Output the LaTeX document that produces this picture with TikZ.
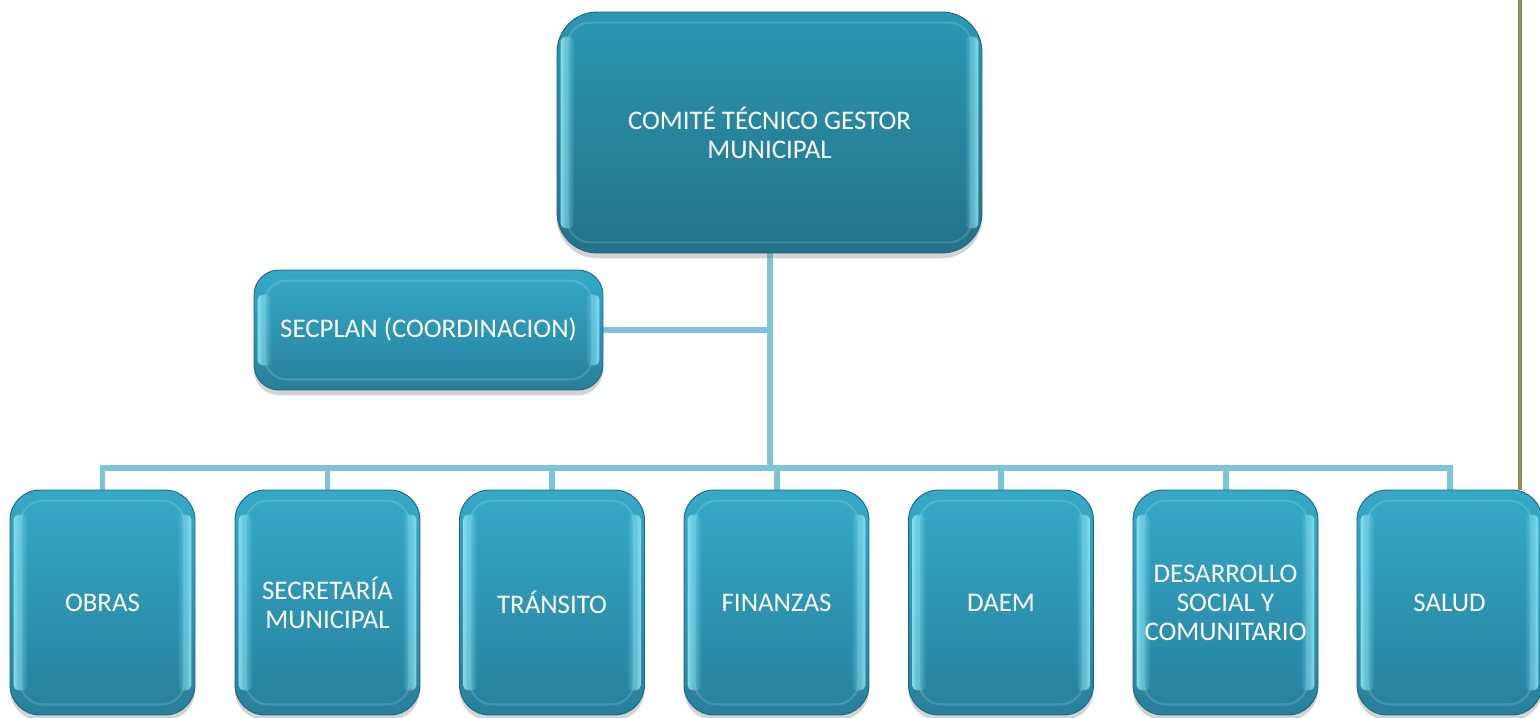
\documentclass[tikz,border=0pt]{standalone}
\usepackage{fontspec}
\setmainfont{Carlito}
\usepackage{tikz}
\usetikzlibrary{shadows,backgrounds,fadings}

\definecolor{boxtop}{HTML}{35A9C9}
\definecolor{boxbot}{HTML}{27809C}
\definecolor{headtop}{HTML}{2C97B3}
\definecolor{headbot}{HTML}{237289}
\definecolor{boxedge}{HTML}{1E6478}
\definecolor{glow}{HTML}{8FE6F7}
\definecolor{linkblue}{HTML}{7EC4D8}
\definecolor{olive}{HTML}{948A54}

\tikzfading[name=glowleft, left color=transparent!10, right color=transparent!100]
\tikzfading[name=glowright, left color=transparent!100, right color=transparent!10]

\tikzset{
    unit/.style={rounded corners=.6cm, top color=boxtop, bottom color=boxbot,
        draw=boxedge, line width=.5pt, text=white, align=center,
        font=\fontsize{15.3}{16.5}\selectfont, inner sep=2pt,
        drop shadow={shadow xshift=0pt, shadow yshift=-3pt, opacity=.35},
        path picture={
            \draw[white, opacity=.15, line width=1.2pt, rounded corners=.45cm]
                ([xshift=6pt,yshift=-6pt]path picture bounding box.north west) rectangle
                ([xshift=-6pt,yshift=6pt]path picture bounding box.south east);
            \fill[glow, path fading=glowleft, rounded corners=3pt]
                ([xshift=2pt,yshift=-14pt]path picture bounding box.north west) rectangle
                ([xshift=10pt,yshift=14pt]path picture bounding box.south west);
            \fill[glow, path fading=glowright, rounded corners=3pt]
                ([xshift=-10pt,yshift=-14pt]path picture bounding box.north east) rectangle
                ([xshift=-2pt,yshift=14pt]path picture bounding box.south east);}},
    dept/.style={unit, minimum width=3.7cm, minimum height=4.5cm},
    link/.style={draw=linkblue, line width=3.4pt},
}

\begin{document}
\begin{tikzpicture}[x=.02cm, y=-.02cm]
    \useasboundingbox (0,0) rectangle (1540,717);
    \node[unit, rounded corners=.8cm, top color=headtop, bottom color=headbot,
        minimum width=8.5cm, minimum height=4.82cm] (comite) at (769.5,132.5)
        {COMITÉ TÉCNICO GESTOR\\MUNICIPAL};
    \node[unit, rounded corners=.5cm, minimum width=6.98cm, minimum height=2.4cm]
        (secplan) at (428.5,330) {SECPLAN (COORDINACION)};
    \node[dept] (obras) at (102.5,602.5) {OBRAS};
    \node[dept] (secretaria) at (327.5,602.5) {SECRETARÍA\\MUNICIPAL};
    \node[dept] (transito) at (552,602.5) {TRÁNSITO};
    \node[dept] (finanzas) at (776.5,602.5) {FINANZAS};
    \node[dept] (daem) at (1001,602.5) {DAEM};
    \node[dept] (desarrollo) at (1225.5,602.5) {DESARROLLO\\SOCIAL Y\\COMUNITARIO};
    \node[dept] (salud) at (1449.5,602.5) {SALUD};
    \coordinate (bus) at (769.5,468);
    \coordinate (rim) at (1520,0);
    \begin{pgfonlayer}{background}
        \draw[link] (comite.south) -- (bus);
        \draw[link] (secplan.east) -- (secplan.east -| bus);
        \draw[link] (obras.north) |- (bus) -| (salud.north);
        \foreach \d in {secretaria,transito,finanzas,daem,desarrollo}
            \draw[link] (\d.north) -- (\d.north |- bus);
        \draw[olive, line width=2.3pt] (rim) -- (rim |- salud.north);
    \end{pgfonlayer}
\end{tikzpicture}
\end{document}
